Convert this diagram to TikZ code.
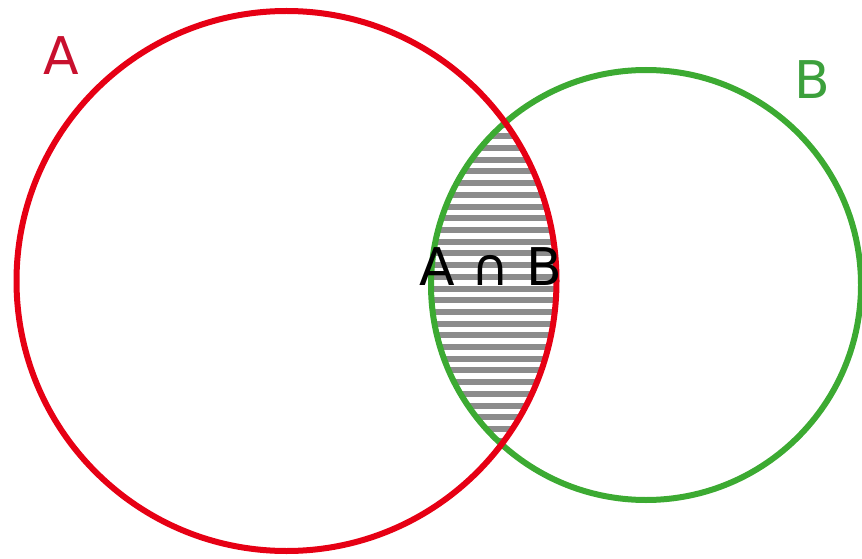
\documentclass[tikz,border=0pt]{standalone}
\usepackage{fontspec}
\setmainfont{DejaVu Sans}
\definecolor{redA}{RGB}{230,0,20}
\definecolor{greenB}{RGB}{60,170,50}
\definecolor{labA}{RGB}{200,16,46}
\definecolor{labB}{RGB}{60,160,60}
\definecolor{hatch}{RGB}{140,140,140}
\begin{document}
\begin{tikzpicture}[x=1pt,y=1pt,
  ring/.style={line width=6pt},
  lbl/.style={inner sep=0pt,font=\fontsize{52}{52}\selectfont}]
\useasboundingbox (0,0) rectangle (862,558);
\coordinate (cA) at (286.5,277);
\coordinate (cB) at (646,273);
% hatched intersection
\begin{scope}
  \clip (cA) circle (270);
  \clip (cB) circle (215);
  \foreach \k in {0,...,30} {
    \draw[hatch,line width=6pt] (420,{445-\k*11.7}) -- (580,{445-\k*11.7});
  }
\end{scope}
\draw[ring,greenB] (cB) circle (215);
\draw[ring,redA] (cA) circle (270);
\node[lbl,text=labA] (la) at (61,502) {A};
\node[lbl,text=labB] (lb) at (812,478) {B};
\node[lbl,anchor=base,text=black] (lab) at (491,273) {A ∩ B};
\end{tikzpicture}
\end{document}
